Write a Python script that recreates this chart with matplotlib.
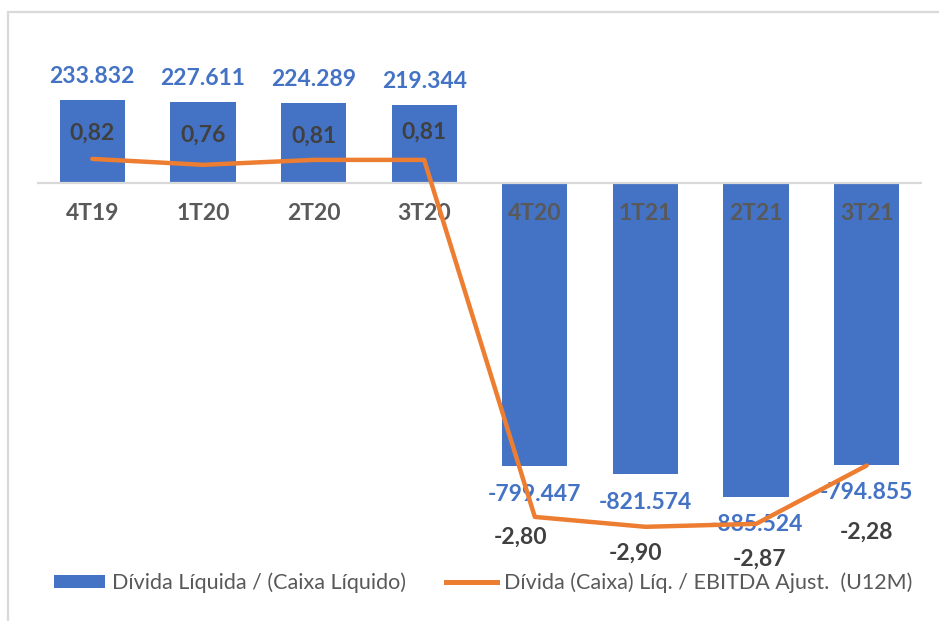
import numpy as np
import matplotlib as mpl
import matplotlib.pyplot as plt
from matplotlib.patches import Patch, Rectangle
from matplotlib.lines import Line2D

BLUE = "#4472C4"
ORANGE = "#ED7D31"
GRAY = "#595959"
DARK = "#404040"

quarters = ["4T19", "1T20", "2T20", "3T20", "4T20", "1T21", "2T21", "3T21"]
divida = [233832, 227611, 224289, 219344, -799447, -821574, -885524, -794855]
alavancagem = [0.82, 0.76, 0.81, 0.81, -2.80, -2.90, -2.87, -2.28]

divida_lbl = ["233.832", "227.611", "224.289", "219.344",
              "-799.447", "-821.574", "-885.524", "-794.855"]
alav_lbl = ["0,82", "0,76", "0,81", "0,81", "-2,80", "-2,90", "-2,87", "-2,28"]

# label offsets for the ratio series, in pixels (as placed in the source chart)
alav_dx = [0, 0, 0, 0, -14, -10, 3, 0]
alav_dy = [26, 30, 24, 28, -20, -26, -35, -67]

mpl.rcParams.update({"font.family": ["Lato", "DejaVu Sans"]})

W, H = 939, 621
fig = plt.figure(figsize=(W / 100, H / 100), dpi=100)

top_px, bot_px = 40, 560
ax = fig.add_axes([37 / W, 1 - bot_px / H, (922 - 37) / W, (bot_px - top_px) / H])
ax2 = ax.twinx()

# bar axis: zero at y=183 px, 0.3545 px per thousand
zero1, k1 = 183, 0.3545e-3
ax.set_ylim(-(bot_px - zero1) / k1, (zero1 - top_px) / k1)
# ratio axis: zero at y=240 px, 98.9 px per unit
zero2, k2 = 240, 98.9
ax2.set_ylim(-(bot_px - zero2) / k2, (zero2 - top_px) / k2)

x = np.arange(len(quarters))
ax.set_xlim(-0.5, len(quarters) - 0.5)
ax.bar(x, divida, width=0.59, color=BLUE, zorder=1)
ax.axhline(0, color="#D9D9D9", lw=1.6, zorder=2)

for xi, v, t in zip(x, divida, divida_lbl):
    ax.annotate(t, (xi, v), xytext=(0, 24 if v > 0 else -28),
                textcoords="offset pixels", ha="center", va="center",
                color=BLUE, fontsize=16.5, fontweight="bold", zorder=4)

for xi, q in zip(x, quarters):
    ax.annotate(q, (xi, 0), xytext=(0, -30), textcoords="offset pixels",
                ha="center", va="center", color=GRAY, fontsize=16.5,
                fontweight="bold", zorder=3)

ax2.plot(x, alavancagem, color=ORANGE, lw=3.2, solid_capstyle="round",
         solid_joinstyle="round", zorder=3)
for xi, v, t, dx, dy in zip(x, alavancagem, alav_lbl, alav_dx, alav_dy):
    ax2.annotate(t, (xi, v), xytext=(dx, dy), textcoords="offset pixels",
                 ha="center", va="center", color=DARK, fontsize=16.5,
                 fontweight="bold", zorder=4)

for a in (ax, ax2):
    a.set_xticks([])
    a.set_yticks([])
    for s in a.spines.values():
        s.set_visible(False)
    a.patch.set_visible(False)

handles = [Patch(facecolor=BLUE, edgecolor="none"),
           Line2D([0], [0], color=ORANGE, lw=3.6)]
labels = ["Dívida Líquida / (Caixa Líquido)",
          "Dívida (Caixa) Líq. / EBITDA Ajust.  (U12M)"]
fig.legend(handles, labels, loc="center", bbox_to_anchor=(483 / W, 1 - 583 / H),
           ncol=2, frameon=False, fontsize=15.5, labelcolor=GRAY,
           handlelength=2.37, handleheight=0.56, handletextpad=0.33,
           columnspacing=1.86)

# outer chart frame (only top and left edges are visible)
fig.add_artist(Rectangle((8 / W, -0.1), 1.2, 1.1 - 12 / H,
                         transform=fig.transFigure, fill=False,
                         edgecolor="#D9D9D9", lw=1.6))

fig.savefig("out.png", dpi=100, facecolor="white")
